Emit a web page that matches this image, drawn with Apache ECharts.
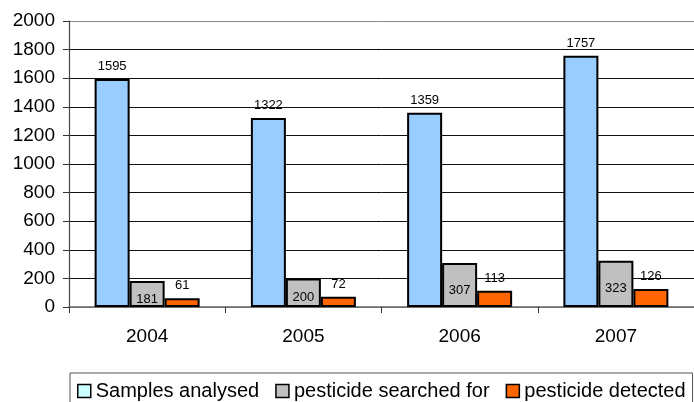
<!DOCTYPE html>
<html>
<head>
<meta charset="utf-8">
<script src="https://cdn.jsdelivr.net/npm/echarts@6/dist/echarts.min.js"></script>
<style>html,body{margin:0;padding:0;background:#fff}#c{width:694px;height:402px}</style>
</head>
<body>
<div id="c"></div>
<script>
const categories = ['2004', '2005', '2006', '2007'];
const samplesAnalysed = [1595, 1322, 1359, 1757];
const pesticideSearched = [181, 200, 307, 323];
const pesticideDetected = [61, 72, 113, 126];
const yTicks = { min: 0, max: 2000, interval: 200 };

const font = 'Liberation Sans, Arial, sans-serif';
const chart = echarts.init(document.getElementById('c'), null, { renderer: 'canvas' });
const border = { borderColor: '#000', borderWidth: 2 };
chart.setOption({
  animation: false,
  textStyle: { fontFamily: font },
  grid: { left: 69, right: -7, top: 21, bottom: 95, containLabel: false },
  xAxis: {
    type: 'category',
    data: categories,
    axisLine: { lineStyle: { color: '#666', width: 1.5 } },
    axisTick: { show: true, length: 6, lineStyle: { color: '#333' } },
    axisLabel: { color: '#000', fontSize: 19, margin: 20, fontFamily: font }
  },
  yAxis: {
    type: 'value',
    min: yTicks.min, max: yTicks.max, interval: yTicks.interval,
    axisLine: { show: true, lineStyle: { color: '#444', width: 1.2 } },
    axisTick: { show: true, length: 6, lineStyle: { color: '#333' } },
    axisLabel: { color: '#000', fontSize: 19, margin: 14, fontFamily: font, formatter: v => String(v) },
    splitLine: { lineStyle: { color: ['#888', '#111', '#111', '#111', '#111', '#111', '#111', '#111', '#111', '#111', '#888'], width: 1 } }
  },
  legend: {
    left: 70, top: 373,
    padding: [8, 7, 8, 7],
    itemWidth: 13, itemHeight: 13, itemGap: 16,
    borderColor: '#555', borderWidth: 1,
    textStyle: { fontSize: 20, color: '#000', fontFamily: font },
    data: [
      { name: 'Samples analysed', icon: 'rect', itemStyle: { color: '#ccffff', borderColor: '#000', borderWidth: 1.5 } },
      { name: 'pesticide searched for', icon: 'rect', itemStyle: { color: '#c0c0c0', borderColor: '#000', borderWidth: 1.5 } },
      { name: 'pesticide detected', icon: 'rect', itemStyle: { color: '#ff6600', borderColor: '#000', borderWidth: 1.5 } }
    ]
  },
  series: [
    {
      name: 'Samples analysed', type: 'bar', data: samplesAnalysed,
      barWidth: 35, barGap: '0%',
      itemStyle: Object.assign({ color: '#99ccff' }, border),
      label: { show: true, position: 'top', distance: 6, fontSize: 13, color: '#000', fontFamily: font }
    },
    {
      name: 'pesticide searched for', type: 'bar', data: pesticideSearched,
      barWidth: 35, barGap: '0%',
      itemStyle: Object.assign({ color: '#c0c0c0' }, border),
      label: { show: true, position: 'inside', offset: [0, 5], fontSize: 13, color: '#000', fontFamily: font }
    },
    {
      name: 'pesticide detected', type: 'bar', data: pesticideDetected,
      barWidth: 35, barGap: '0%',
      itemStyle: Object.assign({ color: '#ff6600' }, border),
      label: { show: true, position: 'top', distance: 6, fontSize: 13, color: '#000', fontFamily: font }
    }
  ]
});
</script>
</body>
</html>
